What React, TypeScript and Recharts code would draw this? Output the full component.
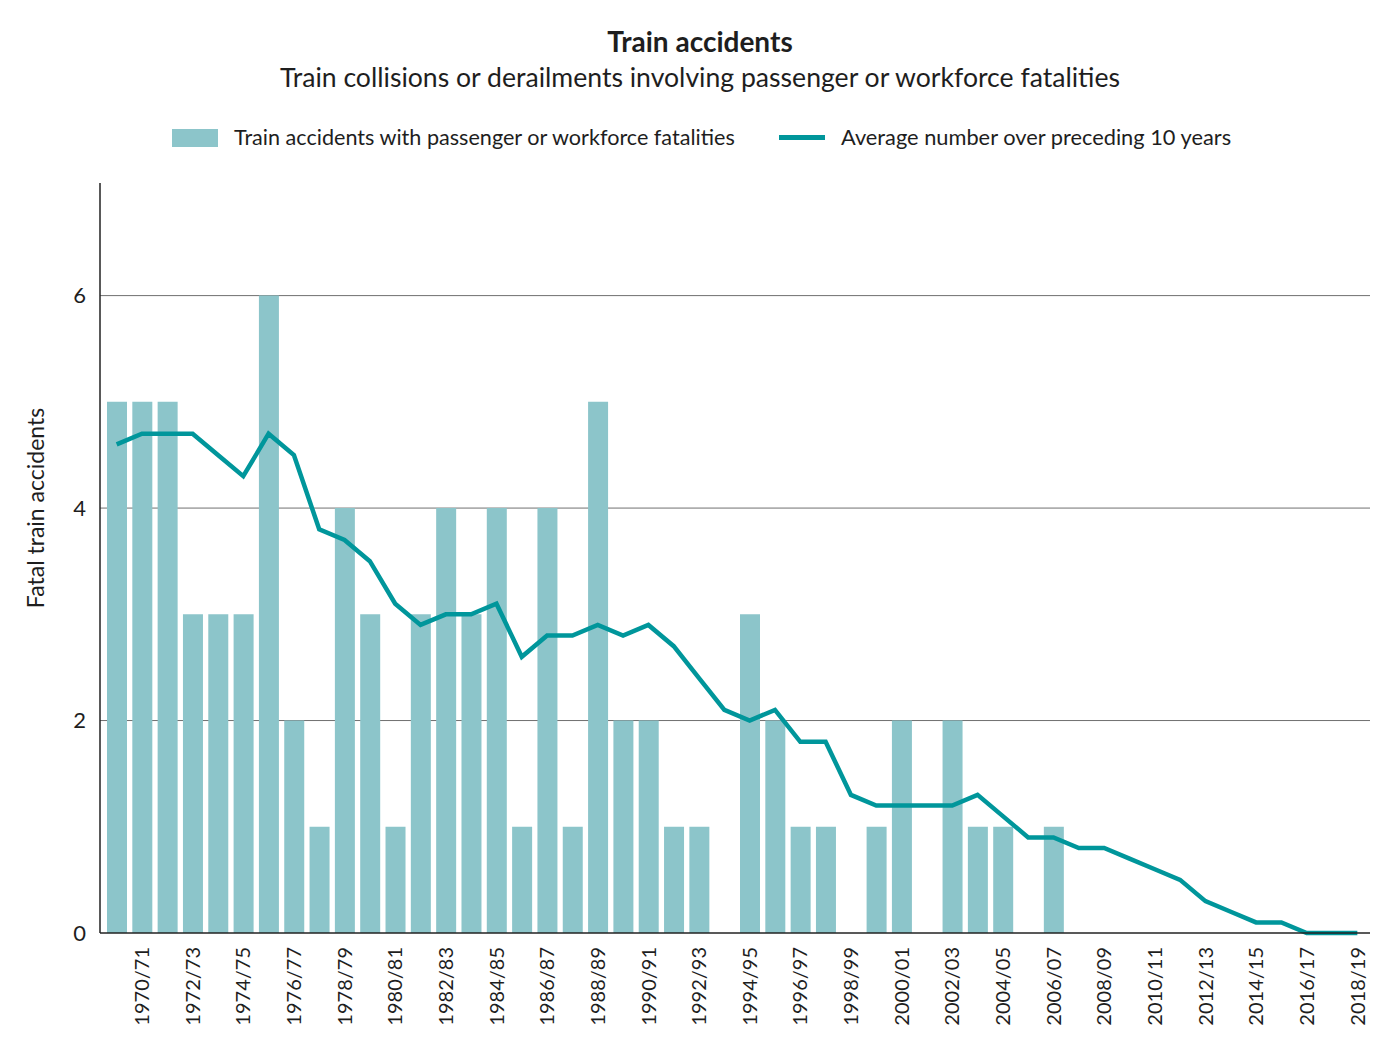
import { ComposedChart, Bar, Line, XAxis, YAxis, CartesianGrid, Label } from 'recharts';

const years = [
  '1969/70', '1970/71', '1971/72', '1972/73', '1973/74', '1974/75', '1975/76', '1976/77', '1977/78', '1978/79',
  '1979/80', '1980/81', '1981/82', '1982/83', '1983/84', '1984/85', '1985/86', '1986/87', '1987/88', '1988/89',
  '1989/90', '1990/91', '1991/92', '1992/93', '1993/94', '1994/95', '1995/96', '1996/97', '1997/98', '1998/99',
  '1999/00', '2000/01', '2001/02', '2002/03', '2003/04', '2004/05', '2005/06', '2006/07', '2007/08', '2008/09',
  '2009/10', '2010/11', '2011/12', '2012/13', '2013/14', '2014/15', '2015/16', '2016/17', '2017/18', '2018/19',
];

const accidents = [
  5, 5, 5, 3, 3, 3, 6, 2, 1, 4,
  3, 1, 3, 4, 3, 4, 1, 4, 1, 5,
  2, 2, 1, 1, 0, 3, 2, 1, 1, 0,
  1, 2, 0, 2, 1, 1, 0, 1, 0, 0,
  0, 0, 0, 0, 0, 0, 0, 0, 0, 0,
];

const tenYearAverage = [
  4.6, 4.7, 4.7, 4.7, 4.5, 4.3, 4.7, 4.5, 3.8, 3.7,
  3.5, 3.1, 2.9, 3.0, 3.0, 3.1, 2.6, 2.8, 2.8, 2.9,
  2.8, 2.9, 2.7, 2.4, 2.1, 2.0, 2.1, 1.8, 1.8, 1.3,
  1.2, 1.2, 1.2, 1.2, 1.3, 1.1, 0.9, 0.9, 0.8, 0.8,
  0.7, 0.6, 0.5, 0.3, 0.2, 0.1, 0.1, 0, 0, 0,
];

const yTicks = [0, 2, 4, 6];
const gridValues = [2, 4, 6];
const xTicks = years.filter((_, i) => i % 2 === 1);

const data = years.map((year, i) => ({
  year,
  accidents: accidents[i],
  average: tenYearAverage[i],
}));

const FONT = 'Lato, "Noto Sans", sans-serif';
const TEXT = '#1e1e1e';
const BAR = '#8cc5ca';
const LINE = '#00969b';

function YearTick({ x, y, payload }: any) {
  const ty = y + 12;
  return (
    <text
      x={x}
      y={ty}
      transform={`rotate(-90 ${x} ${ty})`}
      textAnchor="end"
      dy="0.36em"
      fontSize={20}
      fontFamily={FONT}
      fill={TEXT}
    >
      {payload.value}
    </text>
  );
}

// y axis title sits a bit above the plot's middle in the original
function YTitle() {
  return (
    <text
      x={36}
      y={508}
      transform="rotate(-90 36 508)"
      textAnchor="middle"
      dy="0.36em"
      fontSize={23}
      fontFamily={FONT}
      fill={TEXT}
    >
      Fatal train accidents
    </text>
  );
}

export default function App() {
  return (
    <div style={{ position: 'absolute', left: 0, top: 0, width: 1400, height: 1050, background: '#fff', fontFamily: FONT, color: TEXT }}>
      <div style={{ position: 'absolute', left: 0, top: 24, width: 1400, textAlign: 'center', fontSize: 28, fontWeight: 700, lineHeight: '34px' }}>
        Train accidents
      </div>
      <div style={{ position: 'absolute', left: 0, top: 60, width: 1400, textAlign: 'center', fontSize: 26.6, lineHeight: '34px' }}>
        Train collisions or derailments involving passenger or workforce fatalities
      </div>

      <div style={{ position: 'absolute', left: 172, top: 129, width: 46, height: 18, background: BAR }} />
      <div style={{ position: 'absolute', left: 234, top: 123, fontSize: 21.6, lineHeight: '28px', whiteSpace: 'nowrap' }}>
        Train accidents with passenger or workforce fatalities
      </div>
      <div style={{ position: 'absolute', left: 779, top: 135, width: 46, height: 5, background: LINE }} />
      <div style={{ position: 'absolute', left: 841, top: 123, fontSize: 21.8, lineHeight: '28px', whiteSpace: 'nowrap' }}>
        Average number over preceding 10 years
      </div>

      <div style={{ position: 'absolute', left: 0, top: 0 }}>
        <ComposedChart width={1400} height={1050} data={data} margin={{ top: 183, right: 30, bottom: 0, left: 0 }}>
          <CartesianGrid vertical={false} horizontalValues={gridValues} stroke="#707070" strokeWidth={1} />
          <XAxis
            dataKey="year"
            ticks={xTicks}
            interval={0}
            tick={<YearTick />}
            tickLine={false}
            tickSize={0}
            height={117}
            padding={{ left: 4, right: 0 }}
            axisLine={{ stroke: '#222', strokeWidth: 1.5 }}
          />
          <YAxis
            width={100}
            domain={[0, 7.06]}
            ticks={yTicks}
            tickLine={false}
            tickSize={0}
            tickMargin={14}
            axisLine={{ stroke: '#222', strokeWidth: 1.5 }}
            tick={{ fontSize: 22, fill: TEXT, fontFamily: FONT }}
          >
            <Label content={<YTitle />} />
          </YAxis>
          <Bar dataKey="accidents" fill={BAR} barSize={20} isAnimationActive={false} />
          <Line
            type="linear"
            dataKey="average"
            stroke={LINE}
            strokeWidth={4.5}
            dot={false}
            activeDot={false}
            isAnimationActive={false}
          />
        </ComposedChart>
      </div>
    </div>
  );
}
